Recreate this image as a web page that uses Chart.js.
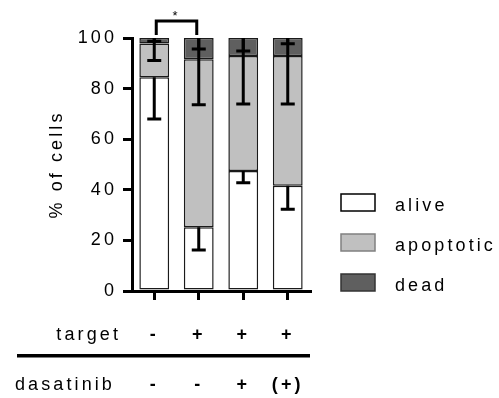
<!DOCTYPE html>
<html lang="en">
<head>
<meta charset="UTF-8">
<title>Cell fate</title>
<script src="https://cdn.jsdelivr.net/npm/chart.js@4.4.1/dist/chart.umd.min.js"></script>
<style>
  html, body { margin: 0; padding: 0; background: #fff; }
  #chart { display: block; }
</style>
</head>
<body>
<canvas id="chart" width="499" height="398"></canvas>
<script>
// treatment per bar
const target = ['-', '+', '+', '+'];
const dasatinib = ['-', '-', '+', '(+)'];

// mean % of cells in each population
const alive = [84.5, 25.2, 47.4, 41.6];
const apoptotic = [13.3, 66.4, 45.5, 51.3];
const dead = [2.2, 8.4, 7.1, 7.1];

// SD, whisker drawn down from each segment top
const aliveSd = [16.5, 9.0, 4.6, 9.3];
const apoptoticSd = [6.7, 18.0, 19.0, 19.0];
const deadSd = [1.3, 4.3, 5.1, 2.3];

const yTicks = [0, 20, 40, 60, 80, 100];

// significance bracket between bars (by index)
const signif = [{ from: 0, to: 1, label: '*' }];

const FONT = '"Liberation Sans", Arial, sans-serif';
const SPACING = '3.1px';

Chart.defaults.font.family = FONT;
Chart.defaults.color = '#000';

// GraphPad-style wide letter spacing for all canvas text
const spacing = {
  id: 'spacing',
  beforeUpdate(chart) { chart.ctx.letterSpacing = SPACING; },
  beforeDraw(chart) { chart.ctx.letterSpacing = SPACING; }
};

const errorBars = {
  id: 'errorBars',
  afterDatasetsDraw(chart) {
    const { ctx, scales: { y } } = chart;
    const sets = chart.data.datasets;
    ctx.save();
    ctx.strokeStyle = '#000';
    ctx.lineWidth = 3;
    sets.forEach((ds, d) => {
      chart.getDatasetMeta(d).data.forEach((bar, i) => {
        let top = 0;
        for (let k = 0; k <= d; k++) top += sets[k].data[i];
        const sd = ds.sd[i];
        const low = y.getPixelForValue(top - sd);
        // upper half of the base segment is hidden under the stack
        const high = d === 0 ? bar.y : y.getPixelForValue(Math.min(top + sd, y.max));
        ctx.beginPath();
        ctx.moveTo(bar.x, high);
        ctx.lineTo(bar.x, low);
        ctx.moveTo(bar.x - 7, low);
        ctx.lineTo(bar.x + 7, low);
        ctx.stroke();
      });
    });
    ctx.restore();
  }
};

const bracket = {
  id: 'bracket',
  afterDraw(chart) {
    const { ctx, scales: { x }, chartArea } = chart;
    ctx.save();
    ctx.strokeStyle = '#000';
    ctx.fillStyle = '#000';
    ctx.lineWidth = 3;
    signif.forEach(s => {
      const x1 = x.getPixelForValue(s.from) + 2;
      const x2 = x.getPixelForValue(s.to) - 2;
      const yb = chartArea.top - 3;
      const yt = chartArea.top - 17;
      ctx.beginPath();
      ctx.moveTo(x1, yb);
      ctx.lineTo(x1, yt);
      ctx.lineTo(x2, yt);
      ctx.lineTo(x2, yb);
      ctx.stroke();
      ctx.font = '13px ' + FONT;
      ctx.textAlign = 'center';
      ctx.textBaseline = 'alphabetic';
      ctx.fillText(s.label, (x1 + x2) / 2, yt - 1);
    });
    ctx.restore();
  }
};

// treatment table under the axis
const conditionRows = {
  id: 'conditionRows',
  afterDraw(chart) {
    const { ctx, scales: { x }, chartArea } = chart;
    const row1 = 340, row2 = 390;
    ctx.save();
    ctx.fillStyle = '#000';
    ctx.textBaseline = 'alphabetic';
    ctx.font = '18px ' + FONT;
    ctx.textAlign = 'right';
    ctx.fillText('target', 121, row1);
    ctx.textAlign = 'left';
    ctx.fillText('dasatinib', 15, row2);
    ctx.font = 'bold 18px ' + FONT;
    ctx.textAlign = 'center';
    target.forEach((s, i) => ctx.fillText(s, x.getPixelForValue(i), row1));
    dasatinib.forEach((s, i) => ctx.fillText(s, x.getPixelForValue(i), row2));
    ctx.fillRect(17, 354, chartArea.right - 17, 3.5);
    ctx.restore();
  }
};

const legendBorders = ['#000', '#808080', '#333'];

const legendBoxes = {
  id: 'legendBoxes',
  afterDraw(chart) {
    const { ctx } = chart;
    ctx.save();
    ctx.font = '18px ' + FONT;
    ctx.textBaseline = 'alphabetic';
    ctx.textAlign = 'left';
    chart.data.datasets.forEach((ds, i) => {
      const top = 194 + i * 40;
      ctx.fillStyle = ds.backgroundColor;
      ctx.fillRect(341, top, 34, 17);
      ctx.strokeStyle = legendBorders[i];
      ctx.lineWidth = 1.5;
      ctx.strokeRect(341, top, 34, 17);
      ctx.fillStyle = '#000';
      ctx.fillText(ds.label, 395, top + 17);
    });
    ctx.restore();
  }
};

const barStyle = {
  borderColor: '#1a1a1a',
  borderWidth: 1.5,
  borderSkipped: false,
  barPercentage: 0.67,
  categoryPercentage: 1
};

new Chart(document.getElementById('chart'), {
  type: 'bar',
  data: {
    labels: target.map((t, i) => `target ${t} / dasatinib ${dasatinib[i]}`),
    datasets: [
      { label: 'alive', data: alive, sd: aliveSd, backgroundColor: '#ffffff', ...barStyle },
      { label: 'apoptotic', data: apoptotic, sd: apoptoticSd, backgroundColor: '#c0c0c0', ...barStyle },
      { label: 'dead', data: dead, sd: deadSd, backgroundColor: '#5f5f5f', ...barStyle }
    ]
  },
  options: {
    responsive: false,
    animation: false,
    layout: { padding: { left: 45, right: 189, top: 38, bottom: 97 } },
    plugins: {
      legend: { display: false },
      tooltip: { enabled: false }
    },
    scales: {
      x: {
        stacked: true,
        offset: true,
        grid: { drawOnChartArea: false, offset: false, tickLength: 9, lineWidth: 3, color: '#000' },
        border: { display: true, width: 3, color: '#000' },
        ticks: { display: false },
        afterFit: s => { s.height = 10; }
      },
      y: {
        stacked: true,
        min: 0,
        max: 100,
        afterBuildTicks: s => { s.ticks = yTicks.map(v => ({ value: v })); },
        grid: { drawOnChartArea: false, tickLength: 9, lineWidth: 3, color: '#000' },
        border: { display: true, width: 3, color: '#000' },
        ticks: { font: { size: 18 }, color: '#000', padding: 6 },
        title: {
          display: true,
          text: '% of cells',
          font: { size: 18 },
          color: '#000',
          padding: { top: 1, bottom: 0 }
        },
        afterFit: s => { s.width = 87; }
      }
    }
  },
  plugins: [spacing, errorBars, bracket, conditionRows, legendBoxes]
});
</script>
</body>
</html>
